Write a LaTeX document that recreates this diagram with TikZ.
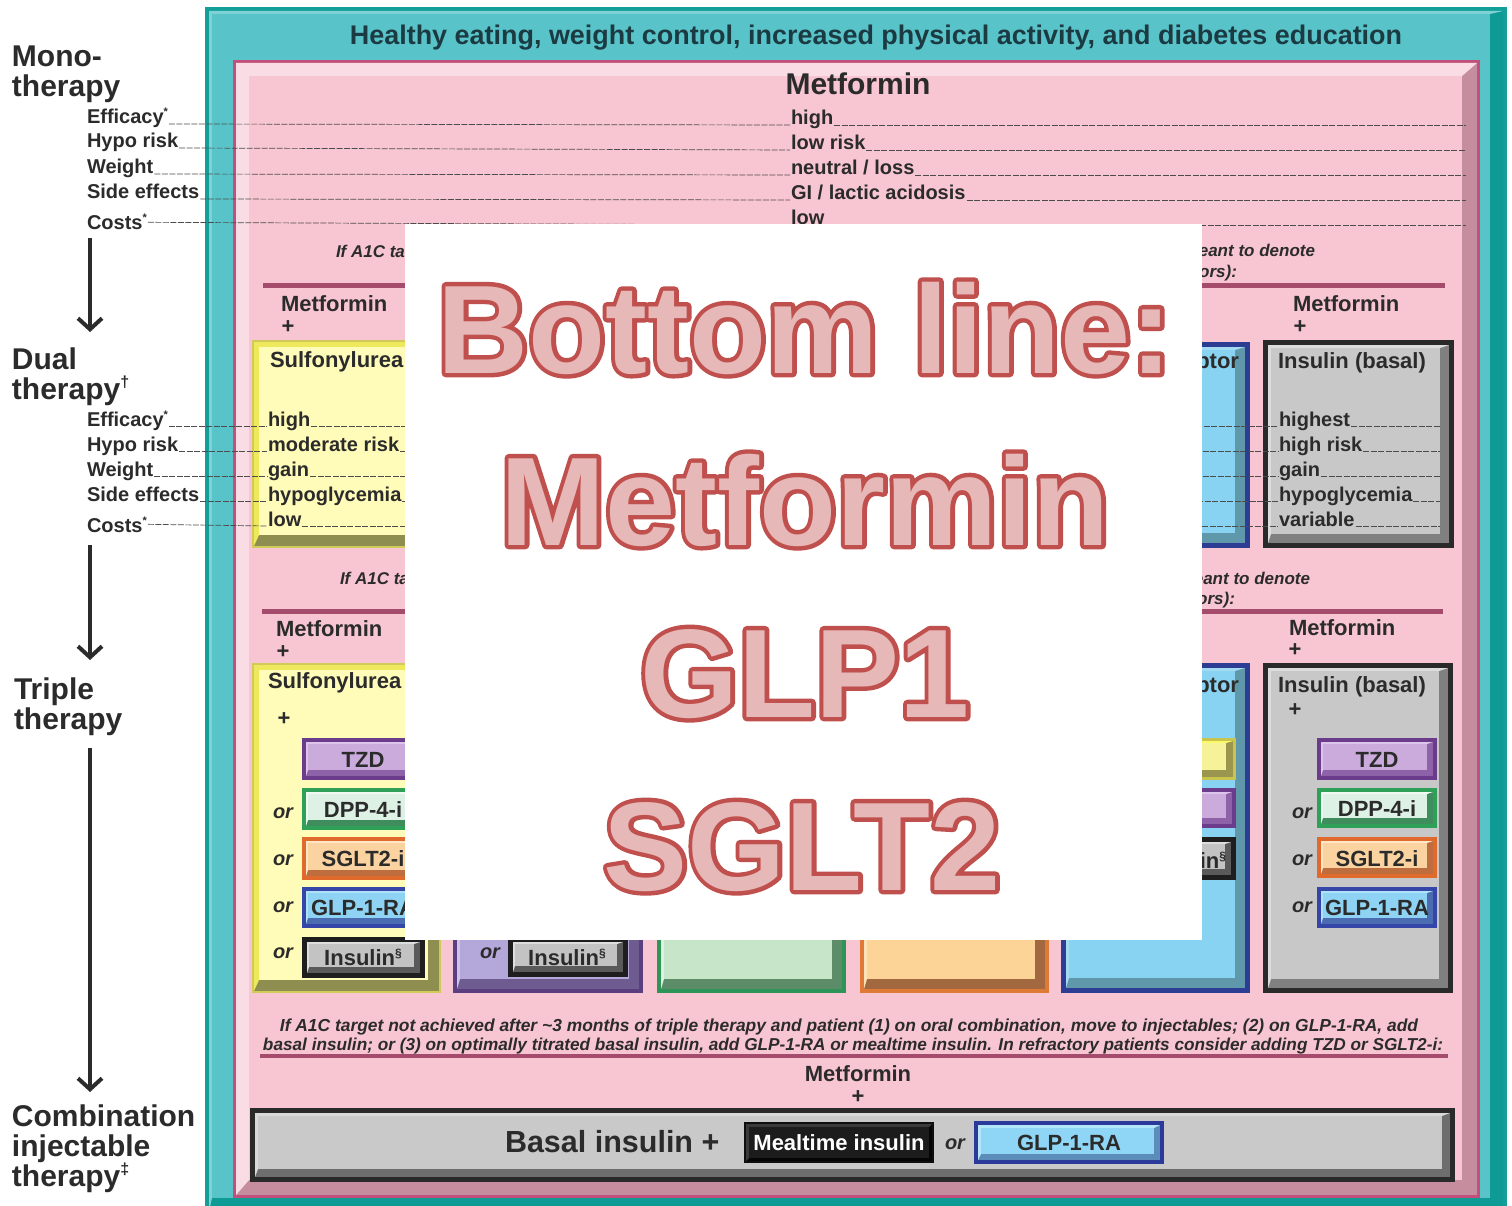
\documentclass[tikz,border=0pt]{standalone}
\usepackage{graphicx}
\usepackage{fontspec}
\setmainfont{Liberation Sans}
\newfontfamily\olstroke{Liberation Sans Bold}[FakeBold=7]
\newfontfamily\olfill{Liberation Sans Bold}
\usetikzlibrary{arrows.meta}

% palette
\definecolor{txt}{HTML}{2B2B2B}
\definecolor{hdr}{HTML}{1C3A42}
\definecolor{rulec}{HTML}{A54C6D}
\definecolor{olred}{HTML}{C0504D}
\definecolor{olpink}{HTML}{E6B8B7}
% bevel schemes: bd border, lt light edge, dk dark edge, fc face
\definecolor{tlbd}{HTML}{139E99}\definecolor{tllt}{HTML}{7ED2D6}\definecolor{tldk}{HTML}{0E9A95}\definecolor{tlfc}{HTML}{58C4CA}
\definecolor{pkbd}{HTML}{C3507A}\definecolor{pklt}{HTML}{FADCE5}\definecolor{pkdk}{HTML}{C58D9D}\definecolor{pkfc}{HTML}{F8C6D2}
\definecolor{ylbd}{HTML}{D0CB58}\definecolor{yllt}{HTML}{EEE85C}\definecolor{yldk}{HTML}{8E8E50}\definecolor{ylfc}{HTML}{FFFBB8}
\definecolor{gybd}{HTML}{2A2A2A}\definecolor{gylt}{HTML}{DCDCDC}\definecolor{gydk}{HTML}{808080}\definecolor{gyfc}{HTML}{C8C8C8}
\definecolor{blbd}{HTML}{2E3D94}\definecolor{bllt}{HTML}{A3DBF3}\definecolor{bldk}{HTML}{5E98AA}\definecolor{blfc}{HTML}{88D2F2}
\definecolor{pubd}{HTML}{5A3E80}\definecolor{pult}{HTML}{CFC2E6}\definecolor{pudk}{HTML}{6E5C90}\definecolor{pufc}{HTML}{B4A8DA}
\definecolor{grbd}{HTML}{2F9458}\definecolor{grlt}{HTML}{DDF1E0}\definecolor{grdk}{HTML}{5D8C68}\definecolor{grfc}{HTML}{C6E5C9}
\definecolor{orbd}{HTML}{DE7A36}\definecolor{orlt}{HTML}{FFE3B8}\definecolor{ordk}{HTML}{A2683F}\definecolor{orfc}{HTML}{FDD497}
\definecolor{tzbd}{HTML}{6C3C8C}\definecolor{tzlt}{HTML}{DCC4EA}\definecolor{tzdk}{HTML}{8E62A8}\definecolor{tzfc}{HTML}{CBAADC}
\definecolor{dpbd}{HTML}{2FA058}\definecolor{dplt}{HTML}{F0FAF3}\definecolor{dpdk}{HTML}{3F8C5C}\definecolor{dpfc}{HTML}{DDF2E4}
\definecolor{sgbd}{HTML}{E06A2C}\definecolor{sglt}{HTML}{FFE6C6}\definecolor{sgdk}{HTML}{BE6E3E}\definecolor{sgfc}{HTML}{FBD3A0}
\definecolor{glbd}{HTML}{3446A8}\definecolor{gllt}{HTML}{AEE2F8}\definecolor{gldk}{HTML}{4C6CB2}\definecolor{glfc}{HTML}{8ED3F3}
\definecolor{inbd}{HTML}{1E1E1E}\definecolor{inlt}{HTML}{DEDEDE}\definecolor{indk}{HTML}{5A5A5A}\definecolor{infc}{HTML}{C3C3C3}
\definecolor{yibd}{HTML}{C9C44E}\definecolor{yilt}{HTML}{FBF86A}\definecolor{yidk}{HTML}{9A9650}\definecolor{yifc}{HTML}{F6F29A}
\definecolor{bgbd}{HTML}{2A2A2A}\definecolor{bglt}{HTML}{D9D9D9}\definecolor{bgdk}{HTML}{6E6E6E}\definecolor{bgfc}{HTML}{C9C9C9}
\definecolor{mtbd}{HTML}{0E0E0E}\definecolor{mtlt}{HTML}{3A3A3A}\definecolor{mtdk}{HTML}{050505}\definecolor{mtfc}{HTML}{1C1C1C}
\definecolor{bbbd}{HTML}{2B3A9A}\definecolor{bblt}{HTML}{B4E6FA}\definecolor{bbdk}{HTML}{5C8CBA}\definecolor{bbfc}{HTML}{8FD5F5}

\newcommand{\fs}[1]{\fontsize{#1}{#1}\selectfont}
\newcommand{\sups}[3]{\raisebox{#1}{\fontsize{#2}{#2}\selectfont #3}}
% bevelled box: x1 y1 x2 y2 scheme border top/left-bevel bottom/right-bevel
\newcommand{\bvl}[8]{%
  \fill[#5bd] (#1,#2) rectangle (#3,#4);
  \fill[#5dk] ({#1+#6},{#2+#6}) rectangle ({#3-#6},{#4-#6});
  \fill[#5lt] ({#1+#6},{#2+#6}) -- ({#3-#6},{#2+#6}) -- ({#3-#6-#8},{#2+#6+#7})
     -- ({#1+#6+#7},{#4-#6-#8}) -- ({#1+#6},{#4-#6}) -- cycle;
  \fill[#5fc] ({#1+#6+#7},{#2+#6+#7}) rectangle ({#3-#6-#8},{#4-#6-#8});
}

\tikzset{
  every node/.style={inner sep=0pt, outer sep=0pt},
  tx/.style={font=\fs{20}\bfseries, text=txt, anchor=base west, inner sep=1pt},
  tx22/.style={font=\fs{22}\bfseries, text=txt, anchor=base west, inner sep=1pt},
  big/.style={font=\fs{30}\bfseries, text=txt, anchor=base west, align=left},
  ctr/.style={font=\fs{22}\bfseries, text=txt, anchor=base},
  plus/.style={font=\fs{22}\bfseries, text=txt, anchor=center},
  orl/.style={font=\fs{20}\bfseries\itshape, text=txt, anchor=base west},
  note/.style={font=\fs{17}\bfseries\itshape, text=txt},
  rowline/.style={draw=black!70, line width=0.7pt, dash pattern=on 6pt off 1.5pt},
  rulel/.style={draw=rulec, line width=5pt},
  stage/.style={line width=4pt, draw=txt, -{Straight Barb[length=11pt,width=24pt]}},
  olo/.style={font=\olstroke\fs{126}, text=olred, anchor=base},
  olf/.style={font=\olfill\fs{126}, text=olpink, anchor=base},
}

\begin{document}
\begin{tikzpicture}[x=1pt,y=-1pt]
\useasboundingbox (0,0) rectangle (1512,1206);
\clip (0,0) rectangle (1512,1206);
\fill[white] (0,0) rectangle (1512,1206);

% frames
\bvl{205}{7}{1507}{1215}{tl}{4}{3}{13}
\bvl{233}{60}{1480}{1198}{pk}{3}{13}{15}

% dual therapy column boxes
\bvl{252}{340}{441}{548}{yl}{2}{5}{11}
\bvl{1061}{342}{1250}{548}{bl}{5}{3}{10}
\bvl{1263}{340}{1454}{548}{gy}{5}{3}{9}

% triple therapy column boxes
\bvl{252}{663}{441}{993}{yl}{2}{5}{11}
\bvl{453}{663}{643}{993}{pu}{4}{3}{10}
\bvl{657}{663}{846}{993}{gr}{4}{3}{10}
\bvl{860}{663}{1049}{993}{or}{4}{3}{10}
\bvl{1061}{663}{1250}{993}{bl}{5}{3}{10}
\bvl{1263}{663}{1453}{993}{gy}{5}{3}{9}

% add-on boxes
\bvl{302}{738}{425}{780}{tz}{4}{2}{6}
\bvl{302}{788}{425}{830}{dp}{4}{2}{6}
\bvl{302}{837}{425}{880}{sg}{4}{2}{6}
\bvl{302}{887}{425}{928}{gl}{4}{2}{6}
\bvl{302}{937}{425}{978}{in}{5}{2}{6}
\bvl{508}{937}{628}{977}{in}{5}{2}{6}
\bvl{1112}{738}{1236}{780}{yi}{3}{2}{7}
\bvl{1112}{788}{1236}{828}{tz}{4}{2}{6}
\bvl{1112}{837}{1236}{880}{in}{5}{2}{6}
\bvl{1317}{738}{1437}{780}{tz}{4}{2}{6}
\bvl{1317}{788}{1437}{828}{dp}{4}{2}{6}
\bvl{1317}{837}{1437}{878}{sg}{4}{2}{6}
\bvl{1317}{887}{1437}{928}{gl}{4}{2}{6}

% injectable row
\bvl{250}{1108}{1455}{1182}{bg}{5}{3}{8}
\bvl{744}{1122}{934}{1163}{mt}{2}{3}{3}
\bvl{974}{1121}{1164}{1164}{bb}{4}{3}{6}

% section rules
\draw[rulel] (263,286) -- (1445,286);
\draw[rulel] (262,611) -- (1443,611);
\draw[draw=rulec, line width=4pt] (260,1056) -- (1448,1056);

% stage labels (anchored on the last line's baseline)
\node[big] (mono) at (12,97) {Mono-\\therapy};
\node[big] (dual) at (12,399) {Dual\\therapy\sups{12pt}{16}{\textdagger}};
\node[big] (triple) at (14,729) {Triple\\therapy};
\node[big] (combi) at (12,1186) {Combination\\injectable\\therapy\sups{12pt}{16}{\textdaggerdbl}};

\coordinate (a1s) at (90,238); \coordinate (a1e) at (90,332);
\coordinate (a2s) at (90,545); \coordinate (a2e) at (90,660);
\coordinate (a3s) at (90,748); \coordinate (a3e) at (90,1092);
\draw[stage] (a1s) -- (a1e);
\draw[stage] (a2s) -- (a2e);
\draw[stage] (a3s) -- (a3e);

% header
\node[font=\bfseries, text=hdr, anchor=base] (hdr) at (876,45)
  {\resizebox{1052pt}{!}{Healthy eating, weight control, increased physical activity, and diabetes education}};

% monotherapy
\node[ctr, font=\fs{30}\bfseries] (mtitle) at (858,95) {Metformin};
\node[tx] (meff) at (86,124) {Efficacy\sups{8pt}{11}{*}};
\node[tx] (mhyp) at (86,148) {Hypo risk};
\node[tx] (mwt)  at (86,174) {Weight};
\node[tx] (mse)  at (86,199) {Side effects};
\node[tx] (mcst) at (86,230) {Costs\sups{8pt}{11}{*}};
\node[tx] (mv1) at (790,125) {high};
\node[tx] (mv2) at (790,150) {low risk};
\node[tx] (mv3) at (790,175) {neutral / loss};
\node[tx] (mv4) at (790,200) {GI / lactic acidosis};
\node[tx] (mv5) at (790,225) {low};
\coordinate (mend) at (1466,0);
\draw[rowline] (meff.base east) -- (mv1.base west);
\draw[rowline] (mhyp.base east) -- (mv2.base west);
\draw[rowline] (mwt.base east)  -- (mv3.base west);
\draw[rowline] (mse.base east)  -- (mv4.base west);
\draw[rowline] (mcst.east)      -- (mv5.base west);
\draw[rowline] (mv1.base east) -- (mv1.base east -| mend);
\draw[rowline] (mv2.base east) -- (mv2.base east -| mend);
\draw[rowline] (mv3.base east) -- (mv3.base east -| mend);
\draw[rowline] (mv4.base east) -- (mv4.base east -| mend);
\draw[rowline] (mv5.base east) -- (mv5.base east -| mend);

% dual therapy
\node[note, anchor=base west] (dn1) at (336,258) {If A1C target};
\node[note, anchor=base east] (dn2) at (1315,257) {meant to denote};
\node[note, anchor=base east] (dn3) at (1237,278) {factors):};
\node[tx22] (dm1) at (280,312) {Metformin};
\node[plus] (dp1) at (288,327) {+};
\node[tx22] (dm6) at (1292,312) {Metformin};
\node[plus] (dp6) at (1300,327) {+};
\node[tx22] (dsu) at (269,367) {Sulfonylurea};
\node[tx22, anchor=base east] (dgl) at (1240,368) {ptor};
\node[tx22] (dins) at (1277,368) {Insulin (basal)};
\node[tx] (deff) at (86,426) {Efficacy\sups{8pt}{11}{*}};
\node[tx] (dhyp) at (86,451) {Hypo risk};
\node[tx] (dwt)  at (86,476) {Weight};
\node[tx] (dse)  at (86,501) {Side effects};
\node[tx] (dcst) at (86,532) {Costs\sups{8pt}{11}{*}};
\node[tx] (s1) at (267,426) {high};
\node[tx] (s2) at (267,451) {moderate risk};
\node[tx] (s3) at (267,476) {gain};
\node[tx] (s4) at (267,501) {hypoglycemia};
\node[tx] (s5) at (267,526) {low};
\node[tx] (b1) at (1278,426) {highest};
\node[tx] (b2) at (1278,451) {high risk};
\node[tx] (b3) at (1278,476) {gain};
\node[tx] (b4) at (1278,501) {hypoglycemia};
\node[tx] (b5) at (1278,526) {variable};
\coordinate (dend) at (1440,0);
\draw[rowline] (deff.base east) -- (s1.base west);
\draw[rowline] (dhyp.base east) -- (s2.base west);
\draw[rowline] (dwt.base east)  -- (s3.base west);
\draw[rowline] (dse.base east)  -- (s4.base west);
\draw[rowline] (dcst.east)      -- (s5.base west);
\draw[rowline] (s1.base east) -- (b1.base west);
\draw[rowline] (s2.base east) -- (b2.base west);
\draw[rowline] (s3.base east) -- (b3.base west);
\draw[rowline] (s4.base east) -- (b4.base west);
\draw[rowline] (s5.base east) -- (b5.base west);
\draw[rowline] (b1.base east) -- (b1.base east -| dend);
\draw[rowline] (b2.base east) -- (b2.base east -| dend);
\draw[rowline] (b3.base east) -- (b3.base east -| dend);
\draw[rowline] (b4.base east) -- (b4.base east -| dend);
\draw[rowline] (b5.base east) -- (b5.base east -| dend);

% triple therapy
\node[note, anchor=base west] (tn1) at (340,584) {If A1C target};
\node[note, anchor=base east] (tn2) at (1310,584) {meant to denote};
\node[note, anchor=base east] (tn3) at (1235,604) {factors):};
\node[tx22] (tm1) at (275,636) {Metformin};
\node[plus] (tp1) at (283,652) {+};
\node[tx22] (tm6) at (1288,635) {Metformin};
\node[plus] (tp6) at (1295,650) {+};
\node[tx22] (tsu) at (267,688) {Sulfonylurea};
\node[plus] (tsp) at (284,719) {+};
\node[tx22, anchor=base east] (tgl) at (1240,692) {ptor};
\node[tx22] (tins) at (1277,692) {Insulin (basal)};
\node[plus] (tip) at (1295,710) {+};
% column 1 add-ons
\node[ctr] (c1a) at (363,767) {TZD};
\node[ctr] (c1b) at (363,817) {DPP-4-i};
\node[ctr] (c1c) at (363,866) {SGLT2-i};
\node[ctr] (c1d) at (363,915) {GLP-1-RA};
\node[ctr] (c1e) at (363,965) {Insulin\sups{8pt}{12}{\S}};
\node[orl] (o1b) at (273,818) {or};
\node[orl] (o1c) at (273,865) {or};
\node[orl] (o1d) at (273,912) {or};
\node[orl] (o1e) at (273,958) {or};
% column 2 add-on
\node[ctr] (c2e) at (567,965) {Insulin\sups{8pt}{12}{\S}};
\node[orl] (o2e) at (480,958) {or};
% column 5 add-on
\node[ctr, anchor=base east] (c5e) at (1226,868) {Insulin\sups{8pt}{12}{\S}};
% column 6 add-ons
\node[ctr] (c6a) at (1377,767) {TZD};
\node[ctr] (c6b) at (1377,816) {DPP-4-i};
\node[ctr] (c6c) at (1377,866) {SGLT2-i};
\node[ctr] (c6d) at (1377,915) {GLP-1-RA};
\node[orl] (o6b) at (1292,818) {or};
\node[orl] (o6c) at (1292,865) {or};
\node[orl] (o6d) at (1292,912) {or};

% combination injectable therapy
\node[font=\bfseries\itshape, text=txt, anchor=base] (q1) at (849,1031)
  {\resizebox{1138pt}{!}{If A1C target not achieved after \textasciitilde3 months of triple therapy and patient (1) on oral combination, move to injectables; (2) on GLP-1-RA, add}};
\node[font=\bfseries\itshape, text=txt, anchor=base] (q2) at (853,1050)
  {\resizebox{1180pt}{!}{basal insulin; or (3) on optimally titrated basal insulin, add GLP-1-RA or mealtime insulin. In refractory patients consider adding TZD or SGLT2-i:}};
\node[ctr] (im) at (858,1081) {Metformin};
\node[plus] (ip) at (858,1097) {+};
\node[font=\fs{30.5}\bfseries, text=txt, anchor=base west] (basal) at (505,1152) {Basal insulin +};
\node[font=\fs{22}\bfseries, text=white, anchor=base] (meal) at (839,1150) {Mealtime insulin};
\node[orl] (ior) at (945,1149) {or};
\node[ctr] (iglp) at (1069,1150) {GLP-1-RA};

% summary panel
\fill[white] (405,224) rectangle (1202,940);
\begin{scope}[line join=round, line cap=round]
\node[olo] (k1s) at (805,373) {Bottom line:};
\node[olf] (k1)  at (805,373) {Bottom line:};
\node[olo] (k2s) at (805,545) {Metformin};
\node[olf] (k2)  at (805,545) {Metformin};
\node[olo] (k3s) at (805,717) {GLP1};
\node[olf] (k3)  at (805,717) {GLP1};
\node[olo] (k4s) at (802,890) {SGLT2};
\node[olf] (k4)  at (802,890) {SGLT2};
\end{scope}
\end{tikzpicture}
\end{document}
